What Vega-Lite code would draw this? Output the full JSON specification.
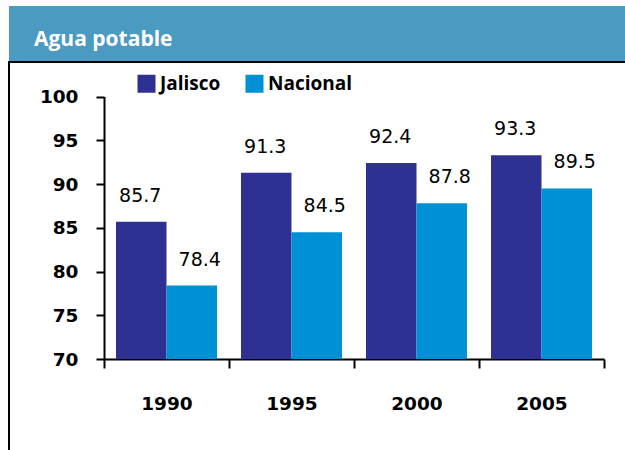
{
  "$schema": "https://vega.github.io/schema/vega-lite/v6.json",
  "background": "white",
  "padding": {"left": 8, "top": 6, "right": 0, "bottom": 0},
  "spacing": 0,
  "config": {"concat": {"spacing": 0}},
  "resolve": {"legend": {"color": "independent"}},
  "vconcat": [
    {
      "width": 618,
      "height": 55,
      "view": {"fill": "#4B9AC2", "stroke": null},
      "data": {"values": []},
      "mark": "rect",
      "title": {
        "text": "Agua potable",
        "anchor": "start",
        "frame": "group",
        "orient": "bottom",
        "offset": 0,
        "dx": 25,
        "dy": -15,
        "baseline": "alphabetic",
        "color": "white",
        "font": "Open Sans",
        "fontSize": 21,
        "fontWeight": "bold"
      }
    },
    {
      "width": 618,
      "height": 389,
      "view": {"stroke": "black", "strokeWidth": 2, "fill": "white"},
      "data": {
        "values": [
          {"anio": "1990", "serie": "Jalisco", "valor": 85.7},
          {"anio": "1990", "serie": "Nacional", "valor": 78.4},
          {"anio": "1995", "serie": "Jalisco", "valor": 91.3},
          {"anio": "1995", "serie": "Nacional", "valor": 84.5},
          {"anio": "2000", "serie": "Jalisco", "valor": 92.4},
          {"anio": "2000", "serie": "Nacional", "valor": 87.8},
          {"anio": "2005", "serie": "Jalisco", "valor": 93.3},
          {"anio": "2005", "serie": "Nacional", "valor": 89.5}
        ]
      },
      "encoding": {
        "x": {
          "field": "anio",
          "type": "nominal",
          "sort": ["1990", "1995", "2000", "2005"],
          "scale": {"range": [95, 595], "paddingInner": 0, "paddingOuter": 0},
          "axis": {
            "title": null,
            "labelAngle": 0,
            "tickBand": "extent",
            "offset": -92,
            "domainColor": "black",
            "domainWidth": 2,
            "tickColor": "black",
            "tickWidth": 2,
            "tickSize": 9,
            "labelFont": "DejaVu Sans",
            "labelFontWeight": "bold",
            "labelFontSize": 18.5,
            "labelColor": "black",
            "labelBaseline": "alphabetic",
            "labelPadding": 41,
            "grid": false
          }
        },
        "xOffset": {
          "field": "serie",
          "type": "nominal",
          "sort": ["Jalisco", "Nacional"],
          "scale": {"paddingInner": 0, "paddingOuter": 0.2376}
        },
        "y": {
          "field": "valor",
          "type": "quantitative",
          "scale": {"domain": [70, 100], "range": [297, 34.5], "nice": false, "zero": false},
          "axis": {
            "title": null,
            "values": [70, 75, 80, 85, 90, 95, 100],
            "offset": -95,
            "grid": false,
            "domainColor": "black",
            "domainWidth": 2,
            "tickColor": "black",
            "tickWidth": 2,
            "tickSize": 8,
            "labelFont": "DejaVu Sans",
            "labelFontWeight": "bold",
            "labelFontSize": 18.5,
            "labelColor": "black",
            "labelPadding": 18
          }
        }
      },
      "layer": [
        {
          "mark": {"type": "bar"},
          "encoding": {
            "y2": {"datum": 70},
            "color": {
              "field": "serie",
              "type": "nominal",
              "scale": {"domain": ["Jalisco", "Nacional"], "range": ["#2E3192", "#0090D6"]},
              "legend": {
                "title": null,
                "orient": "none",
                "legendX": 128,
                "legendY": 12,
                "direction": "horizontal",
                "symbolType": "square",
                "symbolSize": 324,
                "symbolStrokeWidth": 0,
                "symbolOpacity": 1,
                "labelFont": "Open Sans",
                "labelFontSize": 19,
                "labelFontWeight": "bold",
                "labelColor": "black",
                "labelOffset": 4,
                "columnPadding": 24,
                "padding": 0
              }
            }
          }
        },
        {
          "transform": [{"filter": "datum.serie === 'Jalisco'"}],
          "mark": {"type": "text", "dx": -1, "dy": -20, "baseline": "alphabetic", "font": "DejaVu Sans", "fontSize": 19, "color": "black"},
          "encoding": {"text": {"field": "valor", "type": "quantitative", "format": ".1f"}}
        },
        {
          "transform": [{"filter": "datum.serie === 'Nacional'"}],
          "mark": {"type": "text", "dx": 8, "dy": -20, "baseline": "alphabetic", "font": "DejaVu Sans", "fontSize": 19, "color": "black"},
          "encoding": {"text": {"field": "valor", "type": "quantitative", "format": ".1f"}}
        }
      ]
    }
  ]
}
